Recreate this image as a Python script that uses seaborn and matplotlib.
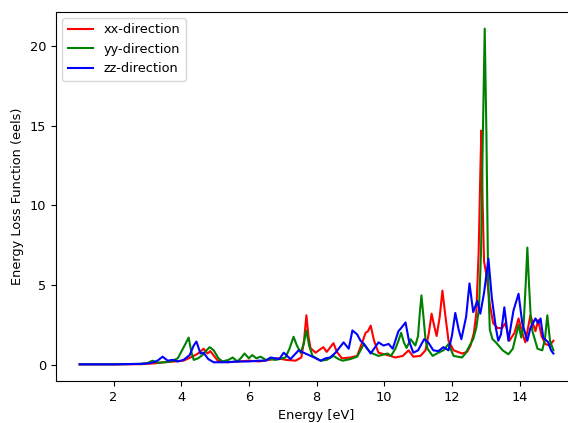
import matplotlib
matplotlib.use("Agg")
import matplotlib.pyplot as plt
import seaborn as sns

plt.rcParams["font.size"] = 9.3

# values
energy_xx = [1.0, 2.0, 2.8, 3.2, 3.5, 3.8, 4.07, 4.37, 4.5, 4.66, 4.78, 4.86, 5.08, 5.37, 5.7,
             6.0, 6.3, 6.6, 6.85, 7.1, 7.38, 7.55, 7.63, 7.7, 7.76, 7.82, 7.97, 8.2, 8.3, 8.5,
             8.6, 8.75, 9.0, 9.2, 9.35, 9.45, 9.52, 9.6, 9.7, 9.83, 10.1, 10.33, 10.55, 10.72,
             10.86, 11.07, 11.22, 11.32, 11.4, 11.48, 11.55, 11.64, 11.72, 11.8, 11.9, 12.05,
             12.3, 12.45, 12.55, 12.65, 12.72, 12.79, 12.84, 12.87, 12.91, 12.95, 13.03, 13.12,
             13.22, 13.35, 13.48, 13.58, 13.7, 13.85, 13.97, 14.08, 14.17, 14.32, 14.47, 14.55,
             14.65, 14.76, 14.88, 15.0]
eels_xx = [0.02, 0.02, 0.03, 0.08, 0.15, 0.2, 0.25, 0.55, 0.7, 1.0, 0.7, 0.85, 0.25, 0.15, 0.2,
           0.25, 0.2, 0.3, 0.4, 0.3, 0.25, 0.45, 1.5, 3.1, 1.8, 1.05, 0.75, 1.1, 0.8, 1.35,
           0.8, 0.4, 0.45, 0.55, 1.4, 2.0, 2.1, 2.45, 1.5, 0.75, 0.6, 0.45, 0.55, 0.9,
           0.5, 0.55, 0.9, 2.0, 3.2, 2.4, 1.8, 3.0, 4.65, 3.2, 1.5, 0.9,
           0.7, 0.8, 1.2, 2.0, 3.2, 7.0, 12.0, 14.7, 10.0, 6.5, 5.5, 3.8,
           2.6, 2.3, 2.3, 2.6, 1.5, 2.0, 2.9, 2.0, 1.4, 3.1, 2.1, 2.8,
           1.8, 1.3, 1.2, 1.5]

energy_yy = [1.0, 2.0, 2.8, 3.0, 3.15, 3.3, 3.5, 3.7, 3.9, 4.1, 4.22, 4.3, 4.37, 4.5, 4.63,
             4.75, 4.84, 4.96, 5.1, 5.22, 5.4, 5.52, 5.66, 5.78, 5.87, 6.0, 6.1, 6.22, 6.35,
             6.5, 6.62, 6.8, 7.08, 7.2, 7.32, 7.42, 7.53, 7.62, 7.7, 7.78, 7.88, 8.12, 8.3,
             8.5, 8.65, 8.77, 9.0, 9.2, 9.3, 9.4, 9.5, 9.6, 9.83, 10.1, 10.2, 10.33, 10.42,
             10.5, 10.58, 10.66, 10.78, 10.92, 11.0, 11.05, 11.1, 11.16, 11.22, 11.28, 11.43,
             11.6, 11.75, 11.9, 12.05, 12.3, 12.4, 12.55, 12.63, 12.72, 12.8, 12.86, 12.92,
             12.97, 13.02, 13.07, 13.12, 13.2, 13.3, 13.5, 13.67, 13.8, 13.88, 13.97, 14.05,
             14.12, 14.18, 14.23, 14.28, 14.33, 14.38, 14.53, 14.67, 14.75, 14.82, 14.9, 15.0]
eels_yy = [0.02, 0.02, 0.05, 0.1, 0.25, 0.12, 0.15, 0.2, 0.4, 1.2, 1.7, 0.8, 0.3, 0.4, 0.6,
           0.9, 1.1, 0.9, 0.4, 0.2, 0.3, 0.45, 0.2, 0.45, 0.7, 0.4, 0.6, 0.4, 0.5,
           0.3, 0.35, 0.3, 0.45, 1.0, 1.75, 1.2, 0.75, 1.3, 2.15, 1.2, 0.55, 0.25, 0.3,
           0.55, 0.35, 0.25, 0.35, 0.5, 0.9, 1.3, 1.0, 0.75, 0.55, 0.7, 0.55, 1.0, 1.5,
           2.0, 1.4, 1.05, 1.6, 1.2, 1.8, 3.2, 4.35, 3.0, 1.6, 1.0, 0.55,
           0.75, 0.9, 1.3, 0.55, 0.45, 0.7, 1.3, 1.6, 2.3, 3.5, 7.0, 15.0,
           21.1, 14.5, 5.5, 2.2, 1.6, 1.4, 0.9, 0.65, 1.0, 1.7, 2.5, 1.7,
           2.5, 5.0, 7.35, 5.0, 3.0, 2.1, 1.0, 0.9, 1.6, 3.1, 1.5, 0.9]

energy_zz = [1.0, 2.0, 2.8, 3.1, 3.3, 3.45, 3.6, 3.75, 3.9, 4.07, 4.25, 4.37, 4.45, 4.57, 4.66,
             4.8, 4.96, 5.3, 5.7, 6.0, 6.3, 6.5, 6.64, 6.9, 7.03, 7.23, 7.47, 7.67, 7.88, 8.12,
             8.27, 8.4, 8.56, 8.8, 8.95, 9.06, 9.2, 9.3, 9.4, 9.6, 9.83, 9.98, 10.13, 10.25,
             10.42, 10.5, 10.63, 10.73, 10.86, 11.0, 11.18, 11.3, 11.45, 11.6, 11.75, 11.9,
             12.0, 12.1, 12.2, 12.28, 12.42, 12.52, 12.63, 12.75, 12.84, 12.95, 13.08, 13.18,
             13.3, 13.37, 13.45, 13.55, 13.67, 13.82, 13.97, 14.08, 14.23, 14.32, 14.47, 14.55,
             14.62, 14.7, 14.85, 14.93, 15.0]
eels_zz = [0.02, 0.02, 0.05, 0.1, 0.25, 0.5, 0.25, 0.3, 0.2, 0.3, 0.6, 1.2, 1.45, 0.7, 0.75,
           0.35, 0.15, 0.15, 0.2, 0.2, 0.25, 0.25, 0.45, 0.35, 0.75, 0.35, 0.9, 0.7, 0.5, 0.25,
           0.4, 0.45, 0.75, 1.4, 1.0, 2.15, 1.9, 1.5, 1.3, 0.7, 1.4, 1.2, 1.3, 1.0,
           2.1, 2.3, 2.65, 1.5, 0.75, 0.9, 1.6, 1.4, 0.9, 0.85, 1.1, 0.9,
           1.8, 3.25, 2.2, 1.6, 3.0, 5.1, 3.3, 4.0, 3.2, 4.5, 6.65, 4.2,
           2.3, 1.5, 1.9, 3.6, 1.5, 3.4, 4.45, 2.6, 1.5, 2.3, 2.9, 2.6,
           2.9, 1.7, 1.4, 0.9, 0.7]

fig, ax = plt.subplots(figsize=(5.68, 4.23), dpi=100)
# axes run a little past the right edge of the canvas, as in the reference
fig.subplots_adjust(left=0.0986, right=1.016, bottom=0.099, top=0.972)

sns.lineplot(x=energy_xx, y=eels_xx, color="red", label="xx-direction", ax=ax, linewidth=1.5)
sns.lineplot(x=energy_yy, y=eels_yy, color="green", label="yy-direction", ax=ax, linewidth=1.5)
sns.lineplot(x=energy_zz, y=eels_zz, color="blue", label="zz-direction", ax=ax, linewidth=1.5)

ax.set_xlabel("Energy [eV]")
ax.set_ylabel("Energy Loss Function (eels)")
ax.set_yticks([0, 5, 10, 15, 20])
ax.legend(loc="upper left")

plt.savefig("out.png", dpi=100)
